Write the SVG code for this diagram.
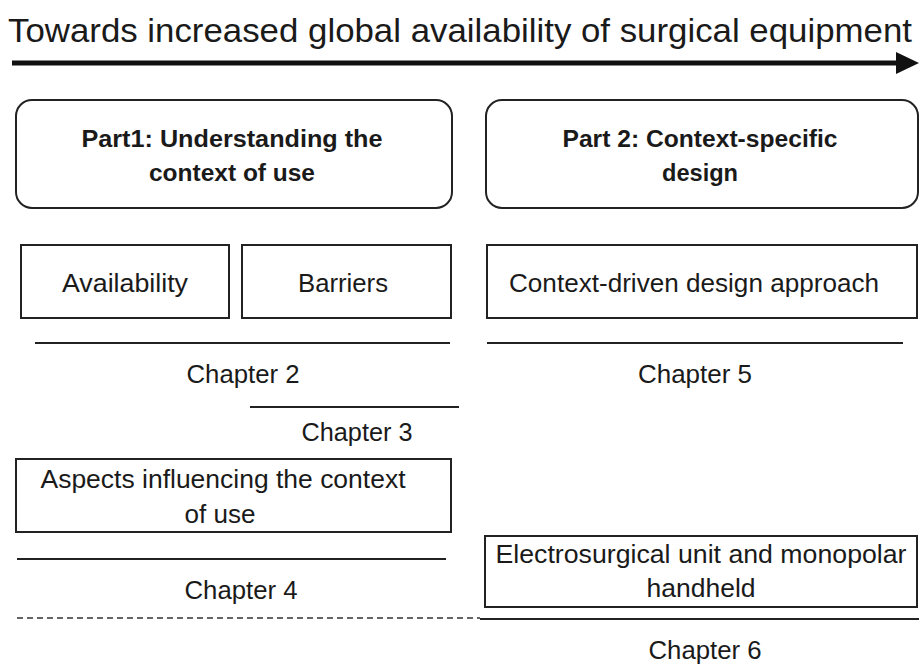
<svg xmlns="http://www.w3.org/2000/svg" width="919" height="666" viewBox="0 0 919 666">
<style>
text{font-family:"Liberation Sans",Arial,sans-serif;fill:#1a1a1a;text-anchor:middle}
.t{font-size:25px}
.b{font-size:23px;font-weight:bold}
.box{fill:none;stroke:#222;stroke-width:2}
.rule{stroke:#222;stroke-width:2;fill:none}
.dash{stroke:#333;stroke-width:1.5;stroke-dasharray:6 4;fill:none}
</style>
<rect width="919" height="666" fill="#fff"/>
<g id="title">
<text x="460" y="42" style="font-size:34px" textLength="904" lengthAdjust="spacingAndGlyphs">Towards increased global availability of surgical equipment</text>
</g>
<g id="connectors">
<line x1="12" y1="63" x2="900" y2="63" stroke="#111" stroke-width="5"/>
<polygon points="896,52 919,63 896,74" fill="#111"/>
<line class="rule" x1="35" y1="343" x2="450" y2="343"/>
<line class="rule" x1="250" y1="407" x2="459" y2="407"/>
<line class="rule" x1="17" y1="559" x2="446" y2="559"/>
<line class="dash" x1="17" y1="618" x2="480" y2="618"/>
<line class="rule" x1="487" y1="343" x2="903" y2="343"/>
<line class="rule" x1="480" y1="619" x2="919" y2="619"/>
</g>
<g id="part1">
<rect class="box" x="16" y="100" width="436" height="108" rx="16"/>
<text class="b" x="232" y="147" textLength="301" lengthAdjust="spacingAndGlyphs">Part1: Understanding the</text>
<text class="b" x="232" y="181" textLength="166" lengthAdjust="spacingAndGlyphs">context of use</text>
</g>
<g id="part2">
<rect class="box" x="486" y="100" width="432" height="108" rx="16"/>
<text class="b" x="700" y="147" textLength="275" lengthAdjust="spacingAndGlyphs">Part 2: Context-specific</text>
<text class="b" x="700" y="181" textLength="76" lengthAdjust="spacingAndGlyphs">design</text>
</g>
<g id="availability">
<rect class="box" x="21" y="245" width="208" height="73"/>
<text class="t" x="125" y="292" textLength="126" lengthAdjust="spacingAndGlyphs">Availability</text>
</g>
<g id="barriers">
<rect class="box" x="242" y="245" width="209" height="73"/>
<text class="t" x="343" y="292" textLength="90" lengthAdjust="spacingAndGlyphs">Barriers</text>
</g>
<g id="context-driven">
<rect class="box" x="487" y="245" width="430" height="73"/>
<text class="t" x="694" y="292" textLength="370" lengthAdjust="spacingAndGlyphs">Context-driven design approach</text>
</g>
<g id="chapter2"><text class="t" x="243" y="383" textLength="113" lengthAdjust="spacingAndGlyphs">Chapter 2</text></g>
<g id="chapter3"><text class="t" x="357" y="441" textLength="111" lengthAdjust="spacingAndGlyphs">Chapter 3</text></g>
<g id="aspects">
<rect class="box" x="16" y="459" width="435" height="73"/>
<text class="t" x="223" y="488" textLength="365" lengthAdjust="spacingAndGlyphs">Aspects influencing the context</text>
<text class="t" x="220" y="523" textLength="71" lengthAdjust="spacingAndGlyphs">of use</text>
</g>
<g id="chapter4"><text class="t" x="241" y="599" textLength="113" lengthAdjust="spacingAndGlyphs">Chapter 4</text></g>
<g id="chapter5"><text class="t" x="695" y="383" textLength="114" lengthAdjust="spacingAndGlyphs">Chapter 5</text></g>
<g id="electrosurgical">
<rect class="box" x="485" y="536" width="432" height="71"/>
<text class="t" x="701" y="563" textLength="411" lengthAdjust="spacingAndGlyphs">Electrosurgical unit and monopolar</text>
<text class="t" x="701" y="597" textLength="109" lengthAdjust="spacingAndGlyphs">handheld</text>
</g>
<g id="chapter6"><text class="t" x="705" y="659" textLength="113" lengthAdjust="spacingAndGlyphs">Chapter 6</text></g>
</svg>
